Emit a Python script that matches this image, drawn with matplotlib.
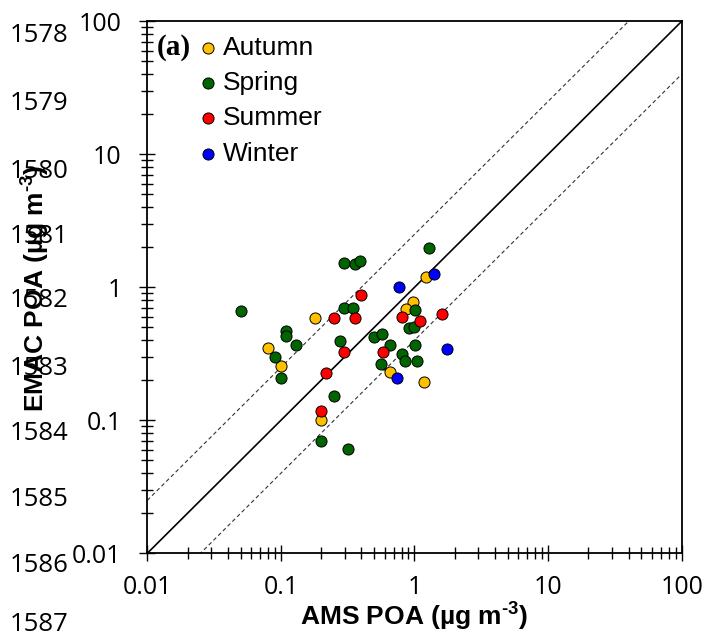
import matplotlib
matplotlib.use('Agg')
import matplotlib.pyplot as plt
import numpy as np
from matplotlib.ticker import FixedLocator, FixedFormatter, LogLocator, NullFormatter

plt.rcParams['mathtext.fontset'] = 'custom'
plt.rcParams['mathtext.rm'] = 'Liberation Sans:bold'
plt.rcParams['mathtext.bf'] = 'Liberation Sans:bold'

# ---------------- data ----------------
autumn_x = [0.080, 0.100, 0.180, 0.199, 1.224, 0.973, 0.862, 0.650, 1.18]
autumn_y = [0.347, 0.257, 0.587, 0.100, 1.19, 0.775, 0.69, 0.231, 0.194]

spring_x = [0.0499, 0.0902, 0.100, 0.109, 0.109, 0.129, 0.298, 0.360, 0.392,
            0.299, 0.349, 0.278, 0.249, 0.199, 0.319, 1.295, 1.01, 0.913,
            0.995, 0.497, 0.570, 0.658, 1.007, 0.805, 0.842, 1.048, 0.557]
spring_y = [0.666, 0.297, 0.208, 0.466, 0.427, 0.367, 1.524, 1.499, 1.57,
            0.698, 0.702, 0.392, 0.152, 0.0698, 0.0608, 1.98, 0.671, 0.496,
            0.505, 0.425, 0.445, 0.367, 0.367, 0.316, 0.278, 0.280, 0.263]

summer_x = [0.248, 0.396, 0.360, 0.299, 0.219, 0.199, 0.80, 1.10, 1.60, 0.580]
summer_y = [0.584, 0.875, 0.584, 0.327, 0.226, 0.117, 0.594, 0.56, 0.629, 0.324]

winter_x = [1.41, 0.759, 0.742, 1.749]
winter_y = [1.266, 1.0, 0.207, 0.341]

seasons = ['Autumn', 'Spring', 'Summer', 'Winter']
season_colors = ['#FFC000', '#006400', '#FF0000', '#0000FF']

tick_values = [0.01, 0.1, 1, 10, 100]
tick_labels = ['0.01', '0.1', '1', '10', '100']
ratio_factor = 2.5

line_numbers = ['1578', '1579', '1580', '1581', '1582', '1583', '1584', '1585', '1586', '1587']
line_baselines_px = [41.7, 110, 178, 243, 307, 375, 440, 506, 572, 631]

# ---------------- figure ----------------
W, H = 704, 636
fig = plt.figure(figsize=(W / 100, H / 100), dpi=100)
ax = fig.add_axes([147.3 / W, 1 - 553.3 / H, 534.4 / W, 532.0 / H])
ax.set_xscale('log')
ax.set_yscale('log')
ax.set_xlim(0.01, 100)
ax.set_ylim(0.01, 100)

# reference lines
xx = np.array([0.01, 100])
ax.plot(xx, xx, color='black', lw=1.2, zorder=2)
ax.plot(xx, xx * ratio_factor, color='#333333', lw=0.8, ls=(0, (3.5, 2.5)), zorder=2)
ax.plot(xx, xx / ratio_factor, color='#333333', lw=0.8, ls=(0, (3.5, 2.5)), zorder=2)

series = [(autumn_x, autumn_y), (spring_x, spring_y), (summer_x, summer_y), (winter_x, winter_y)]
for (sx, sy), name, col in zip(series, seasons, season_colors):
    ax.scatter(sx, sy, s=64, c=col, edgecolors='black', linewidths=0.7, label=name, zorder=3)

# ticks
for axis in (ax.xaxis, ax.yaxis):
    axis.set_major_locator(FixedLocator(tick_values))
    axis.set_major_formatter(FixedFormatter(tick_labels))
    axis.set_minor_locator(LogLocator(base=10, subs=np.arange(2, 10), numticks=20))
    axis.set_minor_formatter(NullFormatter())
ax.tick_params(which='major', direction='inout', length=11, width=1.0, top=False, right=False)
ax.tick_params(which='minor', direction='inout', length=8, width=1.0, top=False, right=False)
ax.tick_params(axis='y', which='major', pad=13)
ax.tick_params(axis='x', which='major', pad=10)
for lab in ax.get_xticklabels() + ax.get_yticklabels():
    lab.set_fontfamily('Open Sans')
    lab.set_fontsize(18)
for sp in ax.spines.values():
    sp.set_linewidth(1.3)

# axis labels
fig.text(414.5 / W, 1 - 616 / H, 'AMS POA (µg m$^{\\text{-3}}$)', ha='center', va='center',
         fontfamily='Liberation Sans', fontweight='bold', fontsize=19)
fig.text(35 / W, 1 - 288 / H, 'EMAC POA (µg m$^{\\text{-3}}$)', ha='center', va='center',
         rotation=90, fontfamily='Liberation Sans', fontweight='bold', fontsize=19)

# panel label
ax.text(0.018, 0.950, '(a)', transform=ax.transAxes, ha='left', va='center',
        fontfamily='Liberation Serif', fontweight='bold', fontsize=21)

# legend
ax.legend(loc='upper left', bbox_to_anchor=(0.101, 0.973), frameon=False,
          prop={'family': 'Liberation Sans', 'size': 19}, handlelength=0.5,
          handletextpad=0.32, labelspacing=0.43, borderpad=0, borderaxespad=0,
          scatterpoints=1)

# manuscript line numbers
for lbl, yb in zip(line_numbers, line_baselines_px):
    fig.text(10 / W, 1 - yb / H, lbl, ha='left', va='baseline',
             fontfamily='Open Sans', fontsize=18.5)

fig.savefig('out.png', dpi=100)
